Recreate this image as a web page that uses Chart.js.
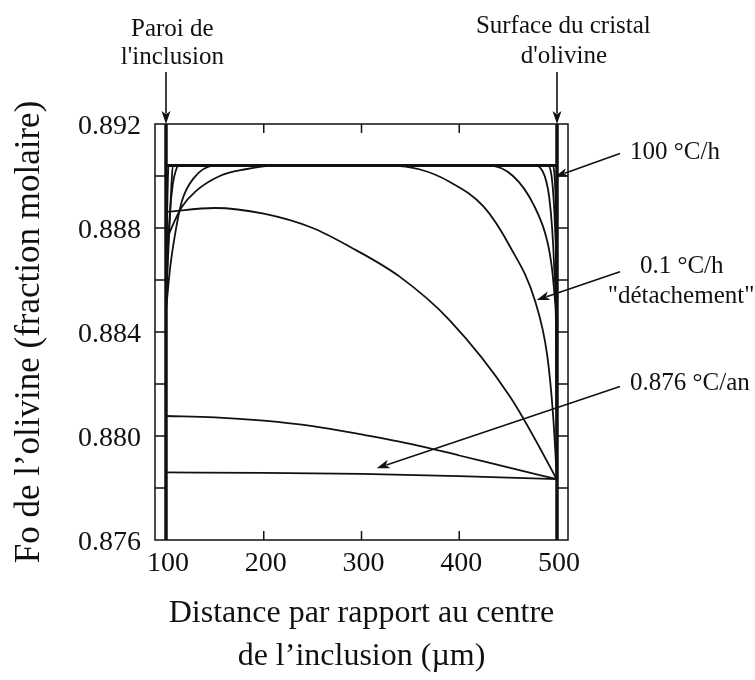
<!DOCTYPE html>
<html>
<head>
<meta charset="utf-8">
<script src="https://cdn.jsdelivr.net/npm/chart.js@4.4.0/dist/chart.umd.min.js"></script>
<style>
  html, body { margin: 0; padding: 0; background: #fff; }
  canvas { display: block; }
</style>
</head>
<body>
<canvas id="myChart" width="755" height="680"></canvas>
<script>
// axis ticks
const xTicks = [100, 200, 300, 400, 500];
const xInnerTicks = [200, 300, 400];
const yTicks = [0.876, 0.880, 0.884, 0.888, 0.892];
const yStripTicks = [0.878, 0.880, 0.882, 0.884, 0.886, 0.888, 0.890];

// walls of the inclusion / crystal surface
const wallY = [0.876, 0.892];
const wallLeftX = [100, 100];
const wallRightX = [500, 500];

// plateau (initial composition)
const plateauX = [100, 500];
const plateauY = [0.8904, 0.8904];

// profiles, fastest cooling first
const c100X = [100, 100.6, 101.3, 102, 102.6, 496, 497.5, 498.7, 499.5, 500];
const c100Y = [0.8850, 0.8870, 0.8888, 0.8900, 0.8904, 0.8904, 0.8900, 0.8890, 0.8870, 0.8783];

const c2X = [100, 102, 104, 105.5, 107, 491, 494, 496, 498, 499.3, 500];
const c2Y = [0.8850, 0.8868, 0.8884, 0.8896, 0.8904, 0.8904, 0.8901, 0.8894, 0.8880, 0.8855, 0.8783];

const c3X = [100, 101.5, 104, 107, 110, 113, 479, 485, 489, 492, 495, 497, 499, 500];
const c3Y = [0.8848, 0.8868, 0.8886, 0.8897, 0.8902, 0.8904, 0.8904, 0.8902, 0.8898, 0.8892, 0.8880, 0.8866, 0.8840, 0.8783];

const c4X = [100, 104, 109, 116, 128, 150, 431, 455, 476, 490, 495, 498, 499.3, 500];
const c4Y = [0.8848, 0.8864, 0.8877, 0.8890, 0.8899, 0.8904, 0.8904, 0.8900, 0.8889, 0.8875, 0.8864, 0.8852, 0.8840, 0.8783];

// 0.1 °C/h "détachement"
const c01X = [100, 108, 116, 130, 155, 180, 210, 329, 360, 390, 425, 452, 477.5, 490, 496, 500];
const c01Y = [0.8875, 0.8882, 0.8888, 0.8894, 0.8900, 0.89025, 0.8904, 0.8904, 0.89025, 0.88978, 0.88882, 0.88728, 0.8852, 0.8831, 0.8808, 0.8783];

const c6X = [100, 150, 200, 250, 288, 339, 390, 452, 498, 500];
const c6Y = [0.88862, 0.88877, 0.88855, 0.8880, 0.88728, 0.88613, 0.88446, 0.88151, 0.87845, 0.8783];

const c7X = [100, 150, 200, 250, 300, 350, 400, 450, 500];
const c7Y = [0.88077, 0.88072, 0.88059, 0.88038, 0.88006, 0.8797, 0.87925, 0.87879, 0.87834];

// 0.876 °C/an
const canX = [100, 200, 300, 400, 450, 500];
const canY = [0.8786, 0.87858, 0.87854, 0.87846, 0.8784, 0.87834];

// annotations (data coordinates)
const notes = [
  { text: "Paroi de", x: 106.5, y: 0.8954, align: "center" },
  { text: "l'inclusion", x: 106.5, y: 0.8943, align: "center" },
  { text: "Surface du cristal", x: 506.5, y: 0.89549, align: "center" },
  { text: "d'olivine", x: 507, y: 0.89433, align: "center" },
  { text: "100 °C/h", x: 574.7, y: 0.89064, align: "left" },
  { text: "0.1 °C/h", x: 627.6, y: 0.88626, align: "center" },
  { text: "\"détachement\"", x: 626.9, y: 0.88510, align: "center" },
  { text: "0.876 °C/an", x: 574.7, y: 0.88177, align: "left" },
];
const arrows = [
  { x1: 100, y1: 0.8940, x2: 100, y2: 0.8920 },
  { x1: 500, y1: 0.8940, x2: 500, y2: 0.8920 },
  { x1: 564.4, y1: 0.89087, x2: 497.9, y2: 0.88997 },
  { x1: 564.4, y1: 0.88632, x2: 479.2, y2: 0.88523 },
  { x1: 564.4, y1: 0.88190, x2: 315.5, y2: 0.87876 },
];

const serif = "'Liberation Serif', 'Times New Roman', serif";
const ink = "#111111";

function pts(xs, ys) {
  return xs.map((x, i) => ({ x: x, y: ys[i] }));
}

function curve(xs, ys, width) {
  return {
    data: pts(xs, ys),
    borderColor: ink,
    borderWidth: width || 1.8,
    pointRadius: 0,
    fill: false,
    cubicInterpolationMode: "monotone",
  };
}

function straight(xs, ys, width) {
  return {
    data: pts(xs, ys),
    borderColor: ink,
    borderWidth: width,
    pointRadius: 0,
    fill: false,
    tension: 0,
    borderCapStyle: "butt",
  };
}

function drawArrow(ctx, x1, y1, x2, y2) {
  const ang = Math.atan2(y2 - y1, x2 - x1);
  const len = 13, half = 4.5;
  ctx.beginPath();
  ctx.moveTo(x1, y1);
  ctx.lineTo(x2 - Math.cos(ang) * len * 0.8, y2 - Math.sin(ang) * len * 0.8);
  ctx.stroke();
  ctx.beginPath();
  ctx.moveTo(x2, y2);
  ctx.lineTo(x2 - Math.cos(ang) * len - Math.sin(ang) * half, y2 - Math.sin(ang) * len + Math.cos(ang) * half);
  ctx.lineTo(x2 - Math.cos(ang) * len * 0.75, y2 - Math.sin(ang) * len * 0.75);
  ctx.lineTo(x2 - Math.cos(ang) * len + Math.sin(ang) * half, y2 - Math.sin(ang) * len - Math.cos(ang) * half);
  ctx.closePath();
  ctx.fill();
}

// frame, inward ticks, arrows and labels
const framePlugin = {
  id: "frame",
  afterDraw(chart) {
    const ctx = chart.ctx;
    const { left, right, top, bottom } = chart.chartArea;
    const xs = chart.scales.x, ys = chart.scales.y;
    ctx.save();
    ctx.strokeStyle = ink;
    ctx.fillStyle = ink;
    ctx.lineWidth = 1.5;
    ctx.strokeRect(left, top, right - left, bottom - top);

    const xl = xs.getPixelForValue(100), xr = xs.getPixelForValue(500);
    yStripTicks.forEach(v => {
      const py = ys.getPixelForValue(v);
      ctx.beginPath();
      ctx.moveTo(left, py); ctx.lineTo(xl, py);
      ctx.moveTo(xr, py); ctx.lineTo(right, py);
      ctx.stroke();
    });
    xInnerTicks.forEach(v => {
      const px = xs.getPixelForValue(v);
      ctx.beginPath();
      ctx.moveTo(px, bottom); ctx.lineTo(px, bottom - 9);
      ctx.moveTo(px, top); ctx.lineTo(px, top + 9);
      ctx.stroke();
    });

    ctx.lineWidth = 1.6;
    arrows.forEach(a => {
      drawArrow(ctx, xs.getPixelForValue(a.x1), ys.getPixelForValue(a.y1),
        xs.getPixelForValue(a.x2), ys.getPixelForValue(a.y2));
    });

    ctx.font = "25px " + serif;
    ctx.textBaseline = "alphabetic";
    notes.forEach(n => {
      ctx.textAlign = n.align;
      ctx.fillText(n.text, xs.getPixelForValue(n.x), ys.getPixelForValue(n.y));
    });
    ctx.restore();
  },
};

const ctx = document.getElementById("myChart").getContext("2d");
new Chart(ctx, {
  type: "line",
  data: {
    datasets: [
      straight(wallLeftX, wallY, 3.5),
      straight(wallRightX, wallY, 3.5),
      curve(c100X, c100Y),
      curve(c2X, c2Y),
      curve(c3X, c3Y),
      curve(c4X, c4Y),
      curve(c01X, c01Y),
      curve(c6X, c6Y),
      curve(c7X, c7Y),
      curve(canX, canY),
      straight(plateauX, plateauY, 3),
    ],
  },
  options: {
    responsive: false,
    animation: false,
    devicePixelRatio: 1,
    layout: { padding: { top: 124, right: 187, left: 0, bottom: 0 } },
    plugins: { legend: { display: false }, tooltip: { enabled: false } },
    scales: {
      x: {
        type: "linear",
        min: 88.75,
        max: 511.25,
        afterBuildTicks: s => { s.ticks = xTicks.map(v => ({ value: v })); },
        afterFit: s => { s.height = 140; },
        grid: { display: false, drawTicks: false },
        border: { display: false },
        ticks: {
          color: ink,
          font: { family: serif, size: 28 },
          padding: 7,
          labelOffset: 2,
          maxRotation: 0,
          autoSkip: false,
          callback: v => String(v),
        },
        title: {
          display: true,
          text: ["Distance par rapport au centre", "de l’inclusion (µm)"],
          color: ink,
          font: { family: serif, size: 32, lineHeight: 1.344 },
          padding: { top: 0, bottom: 1.5 },
        },
      },
      y: {
        min: 0.876,
        max: 0.892,
        afterBuildTicks: s => { s.ticks = yTicks.map(v => ({ value: v })); },
        afterFit: s => { s.width = 155; },
        grid: { display: false, drawTicks: false },
        border: { display: false },
        ticks: {
          color: ink,
          font: { family: serif, size: 28 },
          padding: 14,
          labelOffset: 3,
          autoSkip: false,
          callback: v => v.toFixed(3),
        },
        title: {
          display: true,
          text: "Fo de l’olivine (fraction molaire)",
          color: ink,
          font: { family: serif, size: 35, lineHeight: 1.2 },
          padding: { top: 9, bottom: 0 },
        },
      },
    },
  },
  plugins: [framePlugin],
});
</script>
</body>
</html>
